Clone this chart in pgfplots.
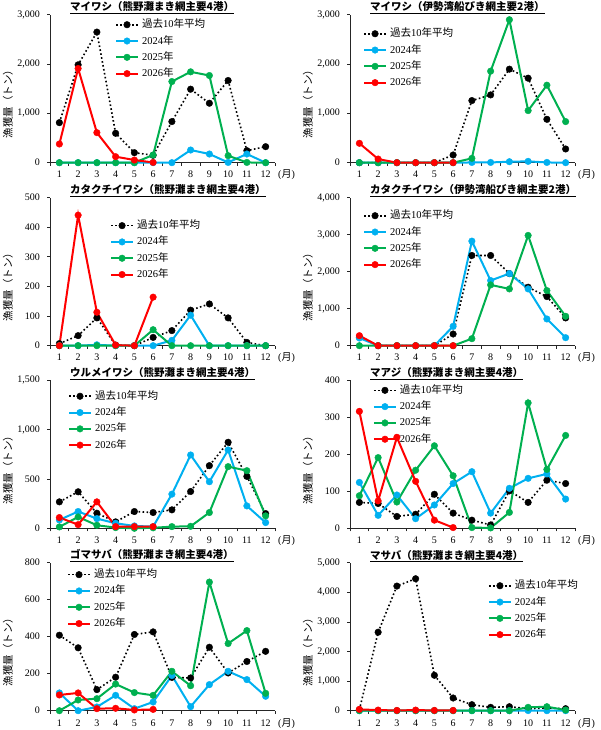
\documentclass[border=0pt]{standalone}
\usepackage{fontspec}
\setmainfont{Liberation Serif}
\newfontfamily\cjk{Noto Sans CJK JP}
\usepackage{pgfplots}
\pgfplotsset{compat=1.18}
\definecolor{cB}{RGB}{0,176,240}
\definecolor{cG}{RGB}{0,176,80}
\definecolor{cR}{RGB}{255,0,0}
\newcommand{\J}[1]{{\cjk #1}}
\pgfplotsset{
 panel/.style={scale only axis, width=225pt, height=148pt, anchor=south west,
  xmin=0.5, xmax=12.5, ymin=0,
  axis x line*=bottom, axis y line*=left,
  axis line style={black!85, line width=0.8pt},
  xtick={1,...,12}, minor xtick={0.5,1.5,...,12.5},
  tick align=outside, major tick length=3pt, minor tick length=3pt,
  every major x tick/.append style={draw=none},
  every minor x tick/.append style={black!85, line width=0.8pt},
  every major y tick/.append style={black!85, line width=0.8pt},
  tick label style={font=\fontsize{10}{12}\selectfont},
  xticklabel style={anchor=base, yshift=-12.3pt},
  yticklabel style={xshift=-3.7pt, /pgf/number format/1000 sep={,}},
  /pgf/number format/assume math mode=true,
  scaled y ticks=false,
  clip=false,
  legend cell align=left,
  legend style={draw=none, fill=none, inner sep=0pt, outer sep=0pt, anchor=north west,
    row sep=6.3pt, column sep=3pt,
    nodes={inner sep=0pt, text height=8pt, text depth=2pt, font=\fontsize{10.5}{12}\selectfont}},
  legend image code/.code={\draw[mark repeat=2,mark phase=2] plot coordinates {(0pt,0pt)(11pt,0pt)(22pt,0pt)};},
 },
 avg/.style={black, line width=1.6pt, dash pattern=on 1.6pt off 2.4pt, mark=*, mark size=3.3pt, mark options={solid, fill=black, line width=0.4pt}},
 y24/.style={cB, line width=2pt, mark=*, mark size=3.3pt, mark options={solid, fill=cB, line width=0.4pt}},
 y25/.style={cG, line width=2pt, mark=*, mark size=3.3pt, mark options={solid, fill=cG, line width=0.4pt}},
 y26/.style={cR, line width=2pt, mark=*, mark size=3.3pt, mark options={solid, fill=cR, line width=0.4pt}},
}
\newcommand{\Leg}{\legend{\J{過去}10\J{年平均},2024\J{年},2025\J{年},2026\J{年}}}
\newcommand{\Deco}[2]{%
 \node[anchor=base west, inner sep=0pt, font=\cjk\bfseries\fontsize{10.5}{12}\selectfont] at ([shift={(20pt,3.7pt)}]#1.north west) {\underline{#2}};
 \node[rotate=90, inner sep=0pt, font=\cjk\fontsize{10.5}{12}\selectfont] at ([shift={(-42pt,-13pt)}]#1.west) {漁獲量（トン）};
 \node[anchor=base west, inner sep=0pt, font=\fontsize{10}{12}\selectfont] at ([shift={(3pt,-15.3pt)}]#1.south east) {(\J{月})};
}
\begin{document}
\begin{tikzpicture}
\path[use as bounding box] (0,0) rectangle (600pt,730pt);
% ---------- Panel 1
\begin{axis}[panel, name=a1, at={(50pt,567.3pt)}, ymax=3000, ytick={0,1000,2000,3000},
  legend style={at={(0.289,0.966)}}]
\addplot[avg] coordinates {(1,812)(2,1984)(3,2647)(4,596)(5,203)(6,150)(7,833)(8,1490)(9,1205)(10,1666)(11,244)(12,325)};
\addplot[y24] coordinates {(1,0)(2,0)(3,0)(4,0)(5,0)(6,0)(7,0)(8,257)(9,176)(10,5)(11,176)(12,0)};
\addplot[y25] coordinates {(1,0)(2,0)(3,0)(4,0)(5,0)(6,156)(7,1645)(8,1842)(9,1767)(10,142)(11,5)(12,0)};
\addplot[y26] coordinates {(1,379)(2,1909)(3,609)(4,122)(5,54)(6,5)};
\Leg
\end{axis}
\Deco{a1}{マイワシ（熊野灘まき網主要4港）}
% ---------- Panel 2
\begin{axis}[panel, name=a2, at={(350pt,567.3pt)}, ymax=3000, ytick={0,1000,2000,3000},
  legend style={at={(0.058,0.905)}}]
\addplot[avg] coordinates {(1,0)(2,0)(3,0)(4,0)(5,0)(6,156)(7,1259)(8,1374)(9,1896)(10,1713)(11,880)(12,278)};
\addplot[y24] coordinates {(1,0)(2,0)(3,0)(4,0)(5,0)(6,0)(7,5)(8,5)(9,20)(10,27)(11,5)(12,0)};
\addplot[y25] coordinates {(1,0)(2,0)(3,0)(4,0)(5,0)(6,0)(7,88)(8,1855)(9,2898)(10,1056)(11,1571)(12,833)};
\addplot[y26] coordinates {(1,393)(2,74)(3,0)(4,0)(5,0)(6,0)};
\Leg
\end{axis}
\Deco{a2}{マイワシ（伊勢湾船びき網主要2港）}
% ---------- Panel 3
\begin{axis}[panel, name=a3, at={(50pt,384.3pt)}, ymax=500, ytick={0,100,...,500},
  legend style={at={(0.267,0.845)}}]
\addplot[avg] coordinates {(1,7)(2,34)(3,94)(4,2)(5,0)(6,28)(7,51)(8,120)(9,141)(10,94)(11,11)(12,0)};
\addplot[y24] coordinates {(1,0)(2,0)(3,3)(4,0)(5,0)(6,0)(7,18)(8,103)(9,0)(10,0)(11,0)(12,0)};
\addplot[y25] coordinates {(1,0)(2,0)(3,0)(4,0)(5,0)(6,54)(7,0)(8,0)(9,0)(10,0)(11,0)(12,0)};
\addplot[y26] coordinates {(1,0)(2,441)(3,113)(4,2)(5,0)(6,164)};
\Leg
\end{axis}
\Deco{a3}{カタクチイワシ（熊野灘まき網主要4港）}
% ---------- Panel 4
\begin{axis}[panel, name=a4, at={(350pt,384.3pt)}, ymax=4000, ytick={0,1000,...,4000},
  legend style={at={(0.058,0.912)}}]
\addplot[avg] coordinates {(1,230)(2,0)(3,0)(4,0)(5,0)(6,316)(7,2438)(8,2438)(9,1950)(10,1580)(11,1327)(12,750)};
\addplot[y24] coordinates {(1,208)(2,0)(3,0)(4,0)(5,0)(6,524)(7,2826)(8,1761)(9,1950)(10,1535)(11,722)(12,217)};
\addplot[y25] coordinates {(1,0)(2,0)(3,0)(4,0)(5,0)(6,0)(7,190)(8,1643)(9,1535)(10,2980)(11,1490)(12,795)};
\addplot[y26] coordinates {(1,271)(2,0)(3,0)(4,0)(5,0)(6,0)};
\Leg
\end{axis}
\Deco{a4}{カタクチイワシ（伊勢湾船びき網主要2港）}
% ---------- Panel 5
\begin{axis}[panel, name=a5, at={(50pt,201.7pt)}, ymax=1500, ytick={0,500,1000,1500},
  legend style={at={(0.08,0.926)}}]
\addplot[avg] coordinates {(1,268)(2,370)(3,153)(4,65)(5,170)(6,160)(7,187)(8,373)(9,635)(10,872)(11,526)(12,149)};
\addplot[y24] coordinates {(1,85)(2,170)(3,98)(4,51)(5,24)(6,17)(7,346)(8,743)(9,472)(10,794)(11,227)(12,58)};
\addplot[y25] coordinates {(1,14)(2,115)(3,31)(4,7)(5,0)(6,5)(7,17)(8,20)(9,160)(10,625)(11,584)(12,126)};
\addplot[y26] coordinates {(1,109)(2,37)(3,268)(4,17)(5,17)(6,17)};
\Leg
\end{axis}
\Deco{a5}{ウルメイワシ（熊野灘まき網主要4港）}
% ---------- Panel 6
\begin{axis}[panel, name=a6, at={(350pt,201.7pt)}, ymax=400, ytick={0,100,...,400},
  legend style={at={(0.102,0.966)}}]
\addplot[avg] coordinates {(1,70)(2,67)(3,32)(4,38)(5,92)(6,41)(7,22)(8,9)(9,101)(10,70)(11,130)(12,121)};
\addplot[y24] coordinates {(1,124)(2,35)(3,90)(4,26)(5,63)(6,121)(7,153)(8,41)(9,108)(10,135)(11,147)(12,79)};
\addplot[y25] coordinates {(1,88)(2,191)(3,71)(4,157)(5,223)(6,142)(7,2)(8,1)(9,43)(10,339)(11,159)(12,251)};
\addplot[y26] coordinates {(1,316)(2,74)(3,246)(4,127)(5,22)(6,2)};
\Leg
\end{axis}
\Deco{a6}{マアジ（熊野灘まき網主要4港）}
% ---------- Panel 7
\begin{axis}[panel, name=a7, at={(50pt,19.3pt)}, ymax=800, ytick={0,200,...,800},
  legend style={at={(0.0756,0.953)}}]
\addplot[avg] coordinates {(1,408)(2,340)(3,114)(4,181)(5,412)(6,426)(7,180)(8,177)(9,343)(10,204)(11,266)(12,321)};
\addplot[y24] coordinates {(1,96)(2,0)(3,20)(4,83)(5,11)(6,47)(7,190)(8,22)(9,141)(10,213)(11,168)(12,78)};
\addplot[y25] coordinates {(1,0)(2,58)(3,65)(4,144)(5,98)(6,83)(7,213)(8,135)(9,695)(10,363)(11,433)(12,94)};
\addplot[y26] coordinates {(1,85)(2,96)(3,11)(4,13)(5,4)(6,7)};
\Leg
\end{axis}
\Deco{a7}{ゴマサバ（熊野灘まき網主要4港）}
% ---------- Panel 8
\begin{axis}[panel, name=a8, at={(350pt,19.3pt)}, ymax=5000, ytick={0,1000,...,5000},
  legend style={at={(0.613,0.878)}}]
\addplot[avg] coordinates {(1,30)(2,2652)(3,4210)(4,4458)(5,1196)(6,429)(7,203)(8,113)(9,135)(10,68)(11,90)(12,68)};
\addplot[y24] coordinates {(1,0)(2,0)(3,0)(4,0)(5,0)(6,0)(7,0)(8,0)(9,0)(10,5)(11,0)(12,0)};
\addplot[y25] coordinates {(1,0)(2,0)(3,0)(4,0)(5,0)(6,0)(7,0)(8,0)(9,0)(10,113)(11,135)(12,23)};
\addplot[y26] coordinates {(1,45)(2,20)(3,10)(4,20)(5,10)(6,10)};
\Leg
\end{axis}
\Deco{a8}{マサバ（熊野灘まき網主要4港）}
\end{tikzpicture}
\end{document}
